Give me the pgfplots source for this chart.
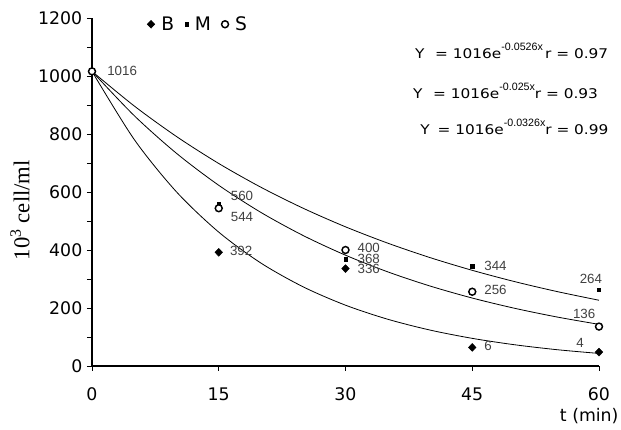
\documentclass[border=0pt]{standalone}
\usepackage{fontspec}
\setmainfont{DejaVu Sans}
\newfontfamily\eqfont{DejaVu Sans}[FakeStretch=1.15]
\newfontfamily\lblfont{Liberation Sans}
\newfontfamily\yfont{Liberation Serif}
\usepackage{pgfplots}
\pgfplotsset{compat=1.18}
\begin{document}
\begin{tikzpicture}
\begin{axis}[name=ax, scale only axis, width=380.25pt, height=261pt,
  xmin=0, xmax=60, ymin=0, ymax=1200, clip=false,
  axis x line=bottom, axis y line=left,
  axis line style={line width=1pt, -},
  xtick={0,15,30,45,60}, ytick={0,200,...,1200}, minor y tick num=1,
  tick align=outside, major tick length=3.75pt, minor tick length=3.75pt,
  tick style={black, line width=0.6pt},
  ticklabel style={font=\fontsize{13}{15}\selectfont},
  xticklabel style={yshift=-9pt},
  /pgf/number format/assume math mode=true, /pgf/number format/1000 sep={},
  xlabel={t (min)},
  xlabel style={at={(axis description cs:1.039,-0.143)}, anchor=east, inner sep=0pt, font=\fontsize{13}{15}\selectfont},
  ylabel={\yfont\fontsize{17}{19}\selectfont 10\textsuperscript{3} cell/ml},
  ylabel style={at={(axis description cs:-0.142,0.448)}, anchor=center, inner sep=0pt},
  legend columns=3,
  legend style={at={(axis description cs:0.21,0.982)}, anchor=center, draw=none, fill=none,
    font=\fontsize{14}{16}\selectfont, inner sep=0pt,
    /tikz/every even column/.append style={column sep=6pt},
    /tikz/every odd column/.append style={column sep=3pt}},
  legend image code/.code={\draw[#1] plot coordinates {(0.12cm,0cm)};},
]
% B
\addplot[only marks, mark=diamond*, mark size=2.9pt, mark options={xscale=1.3}, black]
  coordinates {(0,1016)(15,392)(30,336)(45,64)(60,48)};
\addlegendentry{B}
% M
\addplot[only marks, mark=square*, mark size=1.2pt, black]
  coordinates {(0,1016)(15,560)(30,368)(45,344)(60,264)};
\addlegendentry{M}
% S
\addplot[only marks, mark=*, mark size=2.6pt, mark options={fill=white, draw=black, line width=1.1pt}, black]
  coordinates {(0,1016)(15,544)(30,400)(45,256)(60,136)};
\addlegendentry{S}
% fitted curves (values of the printed equations)
\addplot[black, line width=0.6pt, smooth, forget plot] coordinates {
  (0,1016)(5,781.0)(10,600.4)(15,461.6)(20,354.8)(25,272.8)(30,209.7)
  (35,161.2)(40,123.9)(45,95.3)(50,73.3)(55,56.3)(60,43.3)};
\addplot[black, line width=0.6pt, smooth, forget plot] coordinates {
  (0,1016)(5,896.6)(10,791.3)(15,698.3)(20,616.2)(25,543.8)(30,479.9)
  (35,423.6)(40,373.8)(45,329.9)(50,291.1)(55,256.9)(60,226.7)};
\addplot[black, line width=0.6pt, smooth, forget plot] coordinates {
  (0,1016)(5,863.2)(10,733.3)(15,623.1)(20,529.4)(25,449.7)(30,382.1)
  (35,324.6)(40,275.8)(45,234.3)(50,199.1)(55,169.1)(60,143.6)};
% data labels
\begin{scope}[every node/.style={anchor=west, inner sep=0pt, text=black!75, font=\lblfont\fontsize{10}{12}\selectfont}]
\node at (axis cs:1.78,1017) {1016};
\node at (axis cs:16.4,587) {560};
\node at (axis cs:16.4,515) {544};
\node at (axis cs:16.3,398) {392};
\node at (axis cs:31.4,406) {400};
\node at (axis cs:31.4,370) {368};
\node at (axis cs:31.4,334) {336};
\node at (axis cs:46.4,345) {344};
\node at (axis cs:46.4,262) {256};
\node at (axis cs:46.4,69) {6};
\node at (axis cs:57.7,299) {264};
\node at (axis cs:56.9,179) {136};
\node at (axis cs:57.3,78) {4};
\end{scope}
% equations
\begin{scope}[every node/.style={anchor=base west, inner sep=0pt, font=\eqfont\fontsize{10}{12}\selectfont}]
\node at (rel axis cs:0.637,0.885) {Y\hspace{8pt}= 1016e\raisebox{6pt}{\lblfont\fontsize{8}{9}\selectfont -0.0526x}\,r = 0.97};
\node at (rel axis cs:0.633,0.770) {Y\hspace{8pt}= 1016e\raisebox{6pt}{\lblfont\fontsize{8}{9}\selectfont -0.025x}r = 0.93};
\node at (rel axis cs:0.647,0.664) {Y\hspace{6pt}= 1016e\raisebox{6pt}{\lblfont\fontsize{8}{9}\selectfont -0.0326x}r = 0.99};
\end{scope}
\end{axis}
\path (ax.south west) ++(-69pt,-48pt) coordinate (bbA);
\path (ax.north east) ++(16.5pt,13.5pt) coordinate (bbB);
\path (bbA) rectangle (bbB);
\end{tikzpicture}
\end{document}
